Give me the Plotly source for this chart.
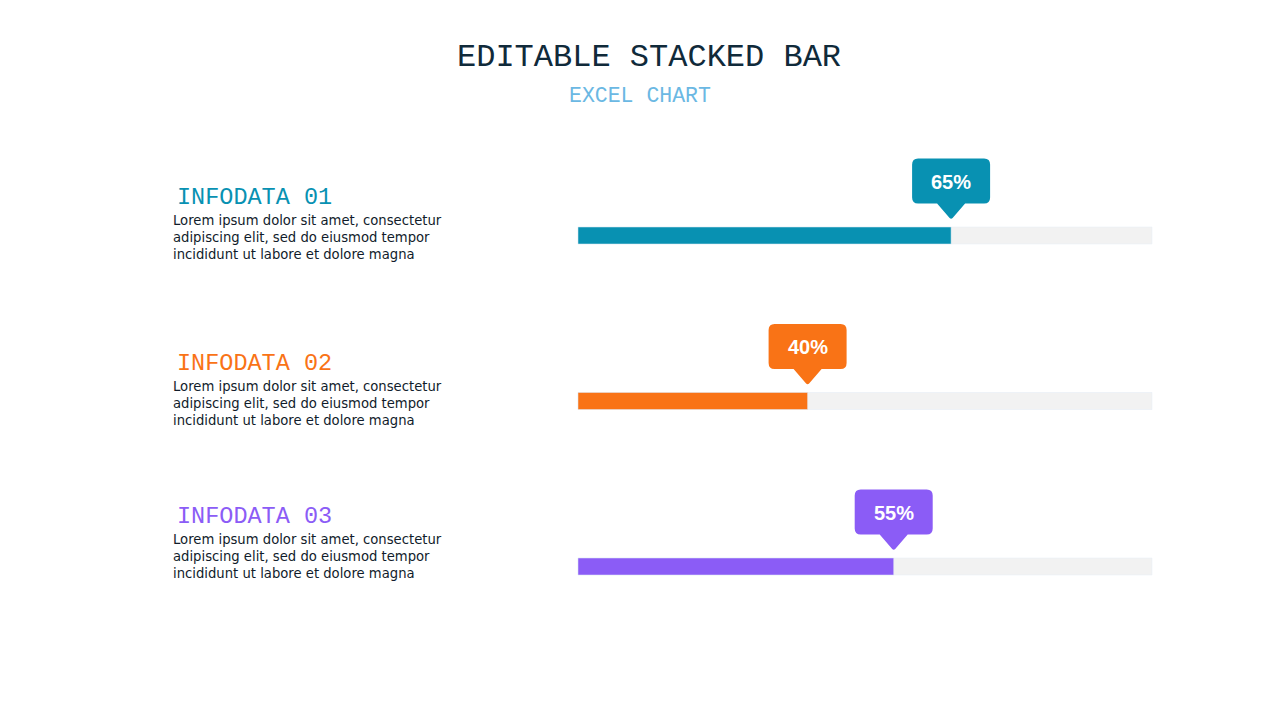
import plotly.graph_objects as go

categories = ["INFODATA 01", "INFODATA 02", "INFODATA 03"]
values = [65, 40, 55]
totals = [100, 100, 100]
labels = ["65%", "40%", "55%"]
colors = ["#0891B2", "#F97316", "#8B5CF6"]
desc_lines = [
    "Lorem ipsum dolor sit amet, consectetur",
    "adipiscing elit, sed do eiusmod tempor",
    "incididunt ut labore et dolore magna",
]
title = "EDITABLE STACKED BAR"
subtitle = "EXCEL CHART"

W, H = 1280, 720
OFF = 8  # page body offset
bar_left_px, bar_right_px = 578 - OFF, 1152 - OFF
px_per_unit = (bar_right_px - bar_left_px) / 100.0
x_range = [-bar_left_px / px_per_unit, (W - bar_left_px) / px_per_unit]
first_px, step_px = 235.5 - OFF, 165.5
y_range = [(H - first_px) / step_px, -first_px / step_px]
text_lift = [0, 0, 12]  # extra upward pixel shift of the left-hand text blocks

fig = go.Figure()
fig.add_trace(go.Bar(y=categories, x=totals, orientation="h", marker_color="#F2F2F2",
                     width=17 / step_px, hoverinfo="skip", showlegend=False))
fig.add_trace(go.Bar(y=categories, x=values, orientation="h", marker_color=colors,
                     width=17 / step_px, showlegend=False))

def callout_path(hw=39, bottom=32, top=77, r=6, tip=16, thw=14):
    return (f"M {-hw + r},{top} L {hw - r},{top} Q {hw},{top} {hw},{top - r} "
            f"L {hw},{bottom + r} Q {hw},{bottom} {hw - r},{bottom} "
            f"L {thw},{bottom} L 1.5,{tip + 1.5} Q 0,{tip} -1.5,{tip + 1.5} L {-thw},{bottom} "
            f"L {-hw + r},{bottom} Q {-hw},{bottom} {-hw},{bottom + r} "
            f"L {-hw},{top - r} Q {-hw},{top} {-hw + r},{top} Z")

desc_text = "<br>".join(desc_lines)
for i, (cat, v, lab, c) in enumerate(zip(categories, values, labels, colors)):
    fig.add_shape(type="path", xref="x", yref="y", xsizemode="pixel", ysizemode="pixel",
                  xanchor=v, yanchor=i, path=callout_path(), fillcolor=c, line_width=0)
    fig.add_annotation(x=v, y=cat, xref="x", yref="y", text=f"<b>{lab}</b>", showarrow=False,
                       yshift=54, font=dict(family="Liberation Sans, Arial", size=20, color="white"))
    fig.add_annotation(x=(175 - OFF) / W, xref="paper", y=cat, yref="y", text=cat, showarrow=False,
                       xanchor="left", yanchor="middle", yshift=38 + text_lift[i],
                       font=dict(family="Liberation Mono, Courier New, monospace", size=23.5, color=c))
    fig.add_annotation(x=(171 - OFF) / W, xref="paper", y=cat, yref="y", text=desc_text, showarrow=False,
                       xanchor="left", yanchor="middle", align="left", yshift=-2 + text_lift[i],
                       font=dict(family="DejaVu Sans", size=13.2, color="#111C2B"))

fig.add_annotation(x=(648.5 - OFF) / W, y=1 - (57.5 - OFF) / H, xref="paper", yref="paper", text=title,
                   showarrow=False, yanchor="middle",
                   font=dict(family="Liberation Mono, Courier New, monospace", size=32, color="#102A3A"))
fig.add_annotation(x=(640 - OFF) / W, y=1 - (96 - OFF) / H, xref="paper", yref="paper", text=subtitle,
                   showarrow=False, yanchor="middle",
                   font=dict(family="Liberation Mono, Courier New, monospace", size=21.5, color="#6BB8E3"))

fig.update_layout(width=W, height=H, margin=dict(l=0, r=0, t=0, b=0), barmode="overlay",
                  plot_bgcolor="white", paper_bgcolor="white",
                  xaxis=dict(range=x_range, visible=False, fixedrange=True),
                  yaxis=dict(range=y_range, visible=False, fixedrange=True,
                             categoryorder="array", categoryarray=categories))
fig.write_html("out.html")
